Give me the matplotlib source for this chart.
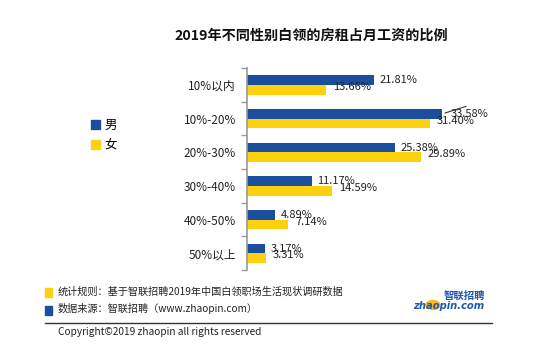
import matplotlib
matplotlib.use("Agg")
import matplotlib.pyplot as plt
from matplotlib.patches import Rectangle, Circle
from matplotlib.lines import Line2D
import numpy as np

plt.rcParams['font.family'] = ['Noto Sans CJK SC', 'DejaVu Sans']

# data
categories = ["10%以内", "10%-20%", "20%-30%", "30%-40%", "40%-50%", "50%以上"]
male = [21.81, 33.58, 25.38, 11.17, 4.89, 3.17]
female = [13.66, 31.40, 29.89, 14.59, 7.14, 3.31]
series_names = ["男", "女"]

BLUE = '#1B4F9E'
YELLOW = '#FDD10D'
TXT = '#222222'

fig = plt.figure(figsize=(5.5, 3.55), dpi=100)
fig.patch.set_facecolor('white')

ax = fig.add_axes([0.449, 0.239, 0.476, 0.569])
y = np.arange(len(categories))
h = 0.285
ax.barh(y - h / 2, male, height=h, color=BLUE, label=series_names[0])
ax.barh(y + h / 2, female, height=h, color=YELLOW, label=series_names[1])

ax.set_xlim(0, 45)
ax.set_ylim(len(categories) - 0.5, -0.5)

# value labels
for i, v in enumerate(male):
    if i == 1:
        # crowded label gets a leader line
        ax.annotate('', xy=(v, i - h / 2), xytext=(19, 6), textcoords='offset points',
                    arrowprops=dict(arrowstyle='-', color='#333333', lw=0.8))
        ax.annotate(f"{v:.2f}%", (v, i - h / 2), xytext=(6, 0), textcoords='offset points',
                    va='center', ha='left', fontsize=8, color=TXT)
    else:
        ax.annotate(f"{v:.2f}%", (v, i - h / 2), xytext=(4, 0), textcoords='offset points',
                    va='center', ha='left', fontsize=8, color=TXT)
for i, v in enumerate(female):
    ax.annotate(f"{v:.2f}%", (v, i + h / 2), xytext=(5, 2), textcoords='offset points',
                va='center', ha='left', fontsize=8, color=TXT)

# axis styling
for s in ['top', 'right', 'bottom']:
    ax.spines[s].set_visible(False)
ax.spines['left'].set_color('#9a9a9a')
ax.spines['left'].set_linewidth(1.2)
ax.set_xticks([])
ax.set_yticks(y)
ax.set_yticklabels(categories, fontsize=8.5, color=TXT)
ax.tick_params(axis='y', which='major', length=0, pad=8)
ax.set_yticks(np.arange(-0.5, len(categories), 1.0), minor=True)
ax.tick_params(axis='y', which='minor', length=4, color='#9a9a9a', width=1)

# title
fig.text(0.566, 0.90, "2019年不同性别白领的房租占月工资的比例", ha='center', va='center',
         fontsize=10.2, fontweight='bold', color='#111111')

# legend
handles = [Rectangle((0, 0), 1, 1, color=BLUE), Rectangle((0, 0), 1, 1, color=YELLOW)]
fig.legend(handles, series_names, loc='center left', bbox_to_anchor=(0.145, 0.619),
           frameon=False, fontsize=9, handlelength=0.7, handleheight=0.7,
           handletextpad=0.4, labelspacing=0.55)

# footer
fig.patches.append(Rectangle((0.082, 1 - 297 / 355), 0.013, 9 / 355, color=YELLOW,
                             transform=fig.transFigure, figure=fig))
fig.text(0.104, 1 - 292 / 355, "统计规则：基于智联招聘2019年中国白领职场生活现状调研数据",
         ha='left', va='center', fontsize=7.3, color=TXT)
fig.patches.append(Rectangle((0.082, 1 - 315 / 355), 0.013, 9 / 355, color=BLUE,
                             transform=fig.transFigure, figure=fig))
fig.text(0.104, 1 - 309 / 355, "数据来源：智联招聘（www.zhaopin.com）",
         ha='left', va='center', fontsize=7.3, color=TXT)
fig.lines.append(Line2D([0.082, 0.895], [1 - 323 / 355] * 2, color='#333333', lw=1,
                        transform=fig.transFigure))
fig.text(0.106, 1 - 332 / 355, "Copyright©2019 zhaopin all rights reserved",
         ha='left', va='center', fontsize=7.3, color=TXT)

# logo
fig.patches.append(Circle((433 / 550, 1 - 305 / 355), 0.0125, color='#F5B81C',
                          transform=fig.transFigure, figure=fig))
fig.text(0.882, 1 - 296 / 355, "智联招聘", ha='right', va='center', fontsize=7.5,
         color='#1F58A8', style='italic', fontweight='bold')
fig.text(0.880, 1 - 306 / 355, "zhaopin.com", ha='right', va='center', fontsize=7.2,
         color='#1F58A8', style='italic', fontweight='bold', family=['DejaVu Sans'])

fig.savefig("out.png", dpi=100)
